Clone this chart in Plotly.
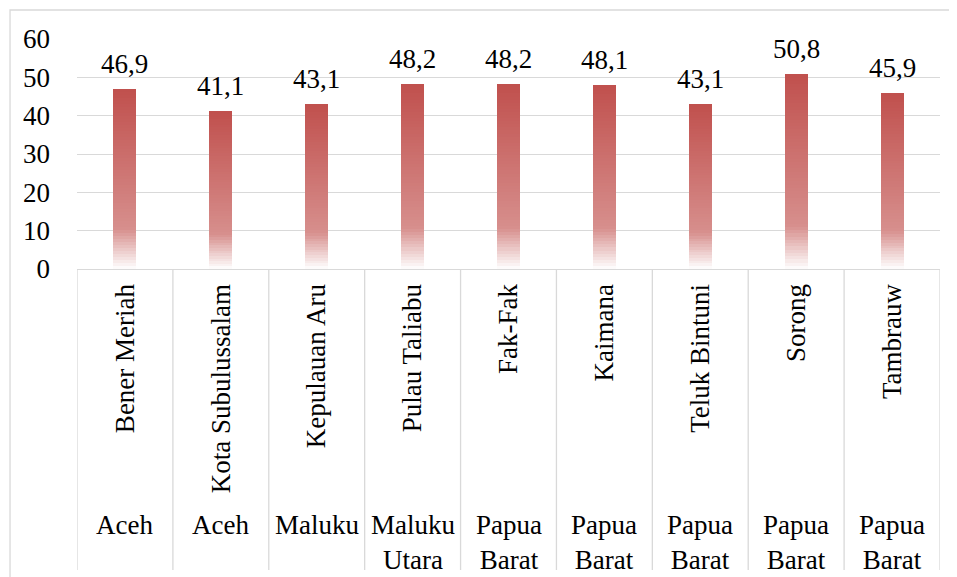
import plotly.graph_objects as go

districts = ["Bener Meriah", "Kota Subulussalam", "Kepulauan Aru", "Pulau Taliabu",
             "Fak-Fak", "Kaimana", "Teluk Bintuni", "Sorong", "Tambrauw"]
provinces = ["Aceh", "Aceh", "Maluku", "Maluku<br>Utara", "Papua<br>Barat",
             "Papua<br>Barat", "Papua<br>Barat", "Papua<br>Barat", "Papua<br>Barat"]
values = [46.9, 41.1, 43.1, 48.2, 48.2, 48.1, 43.1, 50.8, 45.9]
y_ticks = [0, 10, 20, 30, 40, 50, 60]

FONT = "Times New Roman, Liberation Serif, DejaVu Serif, serif"
FS = 27

def hexrgb(h):
    h = h.lstrip("#")
    return tuple(int(h[i:i + 2], 16) for i in (0, 2, 4))

# gradient stops: position from bar bottom (0) to top (1)
stops = [(0.0, "#FFFFFF"), (0.22, "#D78F8D"), (1.0, "#C0504D")]

def color_at(t):
    for (p0, c0), (p1, c1) in zip(stops[:-1], stops[1:]):
        if p0 <= t <= p1:
            f = (t - p0) / (p1 - p0)
            a, b = hexrgb(c0), hexrgb(c1)
            return "rgb(%d,%d,%d)" % tuple(round(a[i] + (b[i] - a[i]) * f) for i in range(3))
    return stops[-1][1]

N = 60
x_idx = list(range(len(districts)))
fig = go.Figure()
for k in range(N):
    fig.add_trace(go.Bar(
        x=x_idx, y=[v / N for v in values],
        marker=dict(color=color_at((k + 0.5) / N), line=dict(width=0)),
        width=0.24, showlegend=False, hoverinfo="skip"))

PH = 230.0
shapes = []
shapes.append(dict(type="rect", xref="paper", yref="paper",
                   x0=-0.0776, x1=1.03, y0=-1.37, y1=(261 - 2) / PH,
                   line=dict(color="#D9D9D9", width=1.3), fillcolor="rgba(0,0,0,0)", layer="below"))
for i in range(len(districts) + 1):
    shapes.append(dict(type="line", xref="x", yref="paper",
                       x0=i - 0.5, x1=i - 0.5, y0=0, y1=-(562 - 261) / PH,
                       line=dict(color="#D9D9D9", width=1.3)))

annotations = []
for i, v in enumerate(values):
    annotations.append(dict(x=i, y=v, xref="x", yref="y",
                            text=("%.1f" % v).replace(".", ","),
                            showarrow=False, yanchor="bottom", xanchor="center", yshift=8,
                            font=dict(family=FONT, size=FS, color="black")))
for i, p in enumerate(provinces):
    annotations.append(dict(x=i, xref="x", y=-(500 - 261) / PH, yref="paper", text=p,
                            showarrow=False, yanchor="top", xanchor="center",
                            font=dict(family=FONT, size=FS, color="black")))

fig.update_layout(
    width=957, height=577,
    margin=dict(l=69, r=25, t=31, b=316),
    paper_bgcolor="white", plot_bgcolor="white",
    barmode="stack", bargap=0.76,
    shapes=shapes, annotations=annotations,
    font=dict(family=FONT, size=FS, color="black"),
    xaxis=dict(
        tickmode="array", tickvals=x_idx, ticktext=districts,
        tickangle=-90, range=[-0.5, len(districts) - 0.5],
        showgrid=False, zeroline=False, showline=True,
        linecolor="#D9D9D9", linewidth=1.3, ticks="",
        tickfont=dict(family=FONT, size=FS, color="black"),
        ticklabelstandoff=3,
    ),
    yaxis=dict(
        range=[0, 60], tickvals=y_ticks,
        showgrid=True, gridcolor="#D9D9D9", gridwidth=1.3,
        zeroline=False, showline=False, ticks="",
        tickfont=dict(family=FONT, size=FS, color="black"),
        ticklabelstandoff=26,
    ),
)

fig.write_html("out.html")
